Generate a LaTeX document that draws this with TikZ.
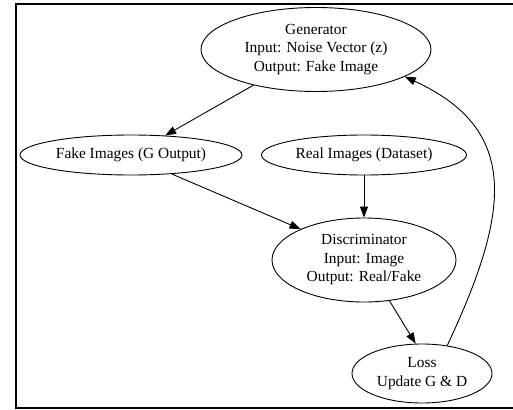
\documentclass[tikz,border=0pt]{standalone}
\usepackage{fontspec}
\setmainfont{Liberation Serif}
\usetikzlibrary{shapes.geometric,arrows.meta}
\begin{document}
\begin{tikzpicture}[x=1pt,y=-1pt,
  every node/.style={font=\fontsize{15.4}{18.5}\selectfont},
  ell/.style={draw, ellipse, inner sep=0pt, align=center, line width=0.9pt},
  edge/.style={draw, line width=0.9pt, -{Triangle[length=11pt,width=8pt]}}]
\useasboundingbox (0,0) rectangle (513,409);
\draw[line width=1.7pt] (513,4) -- (16,4) -- (16,408.3) -- (513,408.3);
\node[ell, minimum width=230pt, minimum height=84pt] (gen) at (316,49.5) {Generator\\Input: Noise Vector (z)\\Output: Fake Image};
\node[ell, minimum width=222pt, minimum height=40pt] (fake) at (131,155) {Fake Images (G Output)};
\node[ell, minimum width=205pt, minimum height=40pt] (real) at (364,155) {Real Images (Dataset)};
\node[ell, minimum width=184pt, minimum height=84pt] (disc) at (364,260) {Discriminator\\Input: Image\\Output: Real/Fake};
\node[ell, minimum width=140pt, minimum height=59pt] (loss) at (422,373.5) {Loss\\Update G \& D};
\draw[edge] (gen) -- (fake);
\draw[edge] (fake.-25.5) -- (disc.154);
\draw[edge] (real) -- (disc);
\draw[edge] (disc.302) -- (loss.102);
\draw[edge] (loss.48) .. controls (510.2,211.6) and (520.5,129.8) .. (gen.-17);
\end{tikzpicture}
\end{document}
